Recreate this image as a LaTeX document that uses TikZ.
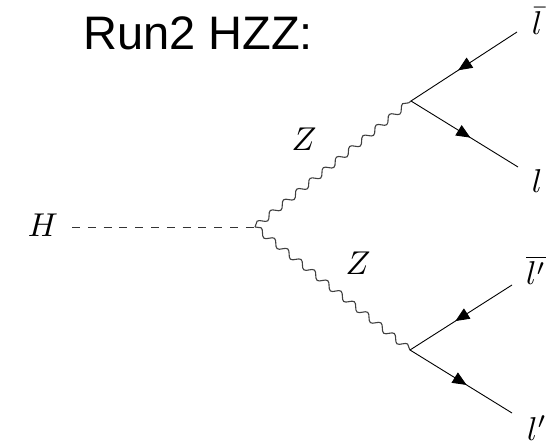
\documentclass[tikz,border=0pt]{standalone}
\usepackage{fontspec}
\newfontfamily\titlefont{Liberation Sans}
\usetikzlibrary{arrows.meta,decorations.pathmorphing,decorations.markings}
\tikzset{
  boson/.style={decorate,decoration={snake,segment length=17pt,amplitude=3.2pt},draw=black!75,line width=1.1pt},
  fermion/.style={draw=black,line width=0.9pt,postaction={decorate},
    decoration={markings,mark=at position 0.555 with {\arrow{Triangle[length=14pt,width=12pt]}}}},
  scalar/.style={draw=black!80,line width=0.9pt,dash pattern=on 8pt off 7.8pt},
  lbl/.style={font=\normalsize,scale=3.3,inner sep=0pt},
  title/.style={font=\titlefont\fontsize{47}{56}\selectfont,inner sep=0pt}
}
\begin{document}
\begin{tikzpicture}[x=1pt,y=-1pt]
\useasboundingbox (0,0) rectangle (550,446);
\node[title,anchor=base] (t) at (198,50) {Run2 HZZ:};
\node[lbl] (H) at (43,225) {$H$};
\coordinate (h0) at (72,227);
\coordinate (v1) at (255,227);
\coordinate (v2) at (411,101);
\coordinate (v3) at (410,350);
\coordinate (e1) at (517,32);
\coordinate (e2) at (518,167);
\coordinate (e3) at (512,285);
\coordinate (e4) at (512,413);
\draw[scalar] (h0) -- (v1);
\draw[boson] (v1) -- (v2);
\draw[boson] (v1) -- (v3);
\draw[fermion] (e1) -- (v2);
\draw[fermion] (v2) -- (e2);
\draw[fermion] (e3) -- (v3);
\draw[fermion] (v3) -- (e4);
\node[lbl] (Z1) at (304,139) {$Z$};
\node[lbl] (Z2) at (358,263) {$Z$};
\node[lbl] (lb) at (537,21) {$\bar{l}$};
\node[lbl] (l) at (537,181) {$l$};
\node[lbl] (lpb) at (536,270) {$\overline{l'}$};
\node[lbl] (lp) at (537,428) {$l'$};
\end{tikzpicture}
\end{document}
